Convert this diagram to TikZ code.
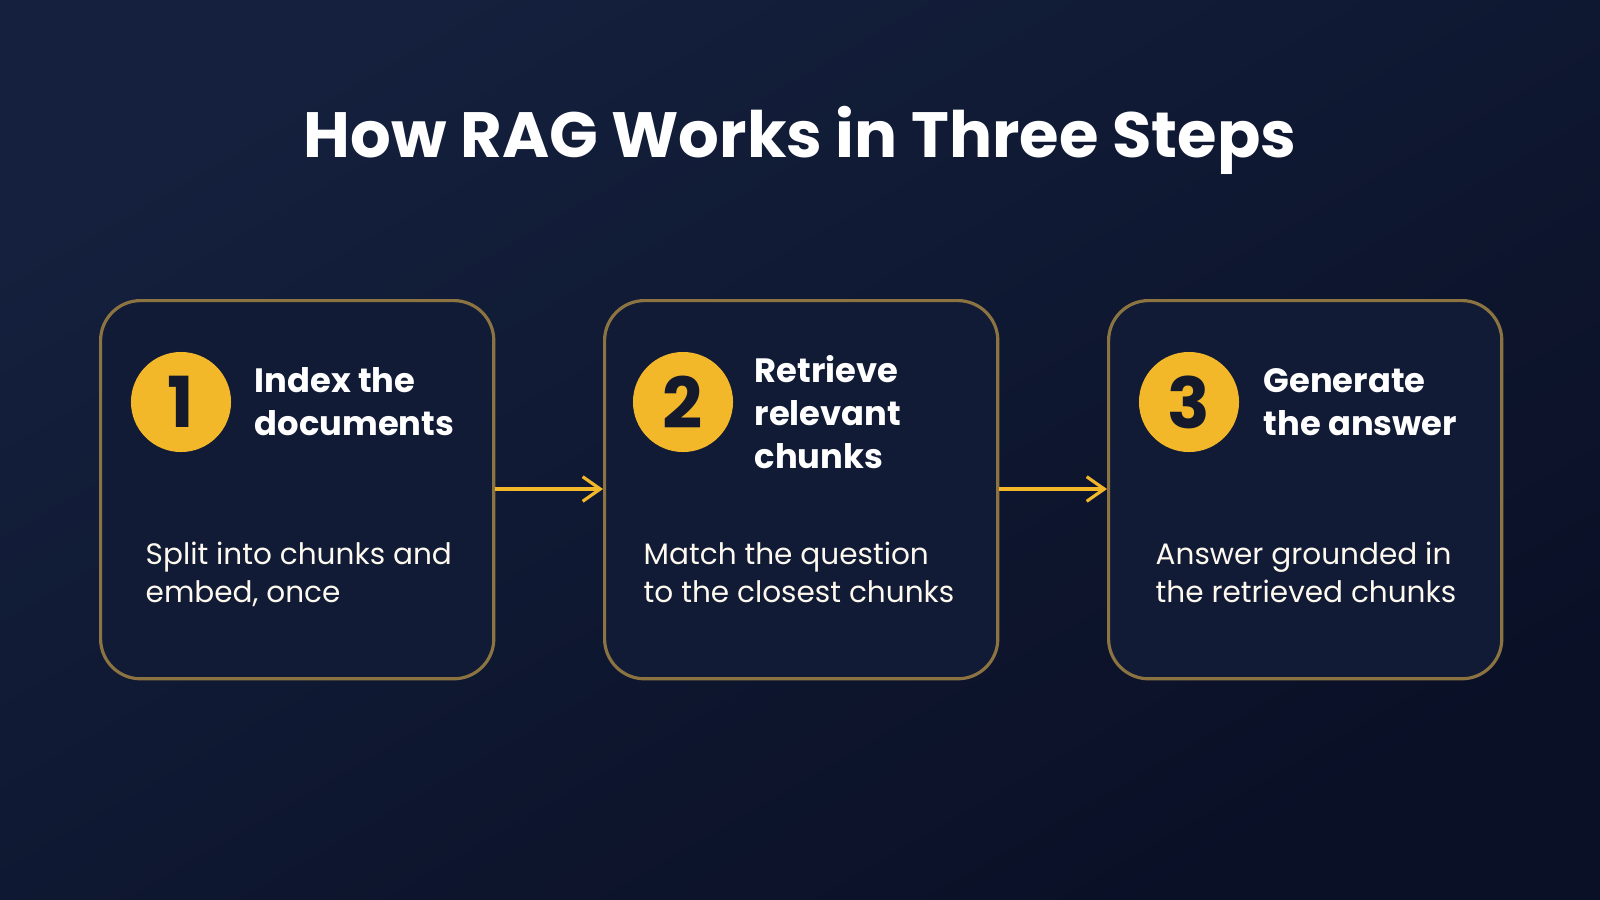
\documentclass[tikz,border=0pt]{standalone}
\usepackage{fontspec}
\setmainfont{Poppins}
\usetikzlibrary{arrows.meta, positioning, calc}
\definecolor{bgtop}{HTML}{14203D}
\definecolor{bgbot}{HTML}{0A1026}
\definecolor{boxfill}{HTML}{111B35}
\definecolor{gold}{HTML}{F2B82A}
\definecolor{rim}{HTML}{8C7442}
\definecolor{ink}{HTML}{141A2C}

\begin{document}
\begin{tikzpicture}[x=0.01cm, y=-0.01cm]
    % --- Style Definitions ---
    \tikzset{
        step box/.style={
            draw=rim,
            line width=0.9pt,
            fill=boxfill,
            rounded corners=0.4cm,
            minimum width=3.93cm,
            minimum height=3.78cm,
            anchor=north west
        },
        badge/.style={
            circle,
            fill=gold,
            minimum size=1cm,
            inner sep=0pt,
            text=ink,
            font=\fontsize{20}{24}\selectfont\bfseries
        },
        step title/.style={
            anchor=west,
            align=left,
            text=white,
            inner sep=0pt,
            font=\fontsize{9.6}{12.3}\selectfont\bfseries
        },
        step text/.style={
            anchor=north west,
            align=left,
            text=white!92!gold,
            inner sep=0pt,
            font=\fontsize{8.4}{10.9}\selectfont
        },
        flow arrow/.style={
            -{Straight Barb[length=5pt, width=7pt]},
            draw=gold,
            line width=0.9pt
        }
    }

    % --- Background ---
    \shade[top color=bgtop, bottom color=bgbot, shading angle=30] (0,0) rectangle (1600,900);
    \useasboundingbox (0,0) rectangle (1600,900);

    % --- Title ---
    \node[text=white, font=\fontsize{18.2}{22}\selectfont\bfseries] (title) at (800,140) {How RAG Works in Three Steps};

    % --- Step 1 ---
    \node[step box] (box1) at (99,299) {};
    \node[badge] (num1) at (181,402) {1};
    \node[step title] (head1) at (254,402) {Index the\\documents};
    \node[step text] (body1) at (145,541) {Split into chunks and\\embed, once};

    % --- Step 2 ---
    \node[step box] (box2) at (603,299) {};
    \node[badge] (num2) at (683,402) {2};
    \node[step title] (head2) at (754,412) {Retrieve\\relevant\\chunks};
    \node[step text] (body2) at (643,541) {Match the question\\to the closest chunks};

    % --- Step 3 ---
    \node[step box] (box3) at (1107,299) {};
    \node[badge] (num3) at (1189,402) {3};
    \node[step title] (head3) at (1263,402) {Generate\\the answer};
    \node[step text] (body3) at (1155,541) {Answer grounded in\\the retrieved chunks};

    % --- Connectors ---
    \draw[flow arrow] (box1.east |- 0,489) -- (box2.west |- 0,489);
    \draw[flow arrow] (box2.east |- 0,489) -- (box3.west |- 0,489);
\end{tikzpicture}
\end{document}
